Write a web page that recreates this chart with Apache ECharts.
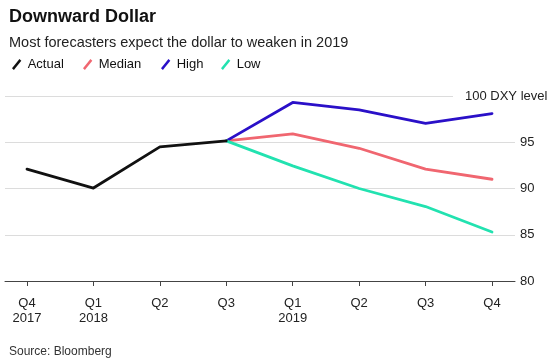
<!DOCTYPE html>
<html><head><meta charset="utf-8">
<script src="https://cdn.jsdelivr.net/npm/echarts@6/dist/echarts.min.js"></script>
<style>html,body{margin:0;padding:0;background:#fff}#c{width:550px;height:364px}</style>
</head><body><div id="c"></div>
<script>
var categories = ['Q4\n2017','Q1\n2018','Q2','Q3','Q1\n2019','Q2','Q3','Q4'];
var actual = [92.1, 90.05, 94.5, 95.15, null, null, null, null];
var median = [null, null, null, 95.15, 95.9, 94.35, 92.1, 91.0];
var high   = [null, null, null, 95.15, 99.3, 98.5, 97.05, 98.1];
var low    = [null, null, null, 95.15, 92.45, 90.0, 88.05, 85.3];
var yTicks = [80, 85, 90, 95, 100];
var topLabel = '100 DXY level';
var seriesNames = ['Actual','Median','High','Low'];
var colors = ['#111111','#f06670','#2a10c8','#22e2b0'];

function pairs(arr){ var out=[]; arr.forEach(function(v,i){ out.push(v==null?[i,null]:[i,v]); }); return out; }
var idx = categories.map(function(_,i){return i;});
var FONT = 'Liberation Sans, Arial, sans-serif';
var icon = 'path://M0,10L8,0L10,1.8L2,11.8Z';

function mkSeries(name, data, color){
  return {name:name, type:'line', data:pairs(data), symbol:'none', connectNulls:false,
    lineStyle:{width:2.8, color:color, cap:'round', join:'round'}, itemStyle:{color:color}, silent:true, z:3};
}
function mkLegend(name, left){
  return {data:[name], left:left, top:58, padding:0, itemWidth:10, itemHeight:11, itemGap:6, icon:icon,
    textStyle:{fontFamily:FONT, fontSize:13, color:'#111', padding:[0,0,0,1]}, selectedMode:false};
}
var chart = echarts.init(document.getElementById('c'), null, {renderer:'canvas'});
chart.setOption({
  animation:false,
  backgroundColor:'#fff',
  title:[
    {text:'Downward Dollar', left:4, top:3, textStyle:{fontFamily:FONT, fontSize:18, fontWeight:'bold', color:'#111'}},
    {text:'Most forecasters expect the dollar to weaken in 2019', left:4, top:30, textStyle:{fontFamily:FONT, fontSize:14.5, fontWeight:'normal', color:'#222'}},
    {text:'Source: Bloomberg', left:4, top:341, textStyle:{fontFamily:FONT, fontSize:12, fontWeight:'normal', color:'#333'}}
  ],
  legend:[mkLegend('Actual',12), mkLegend('Median',83), mkLegend('High',161), mkLegend('Low',221)],
  grid:{left:5, right:35, top:96, bottom:83, containLabel:false, outerBoundsMode:'none'},
  xAxis:{type:'value', min:-0.331, max:7.346,
    axisLine:{show:true, onZero:false, lineStyle:{color:'#444', width:1}},
    axisTick:{show:true, length:5, customValues:idx, lineStyle:{color:'#444'}},
    axisLabel:{customValues:idx, formatter:function(v){return categories[Math.round(v)];}, margin:15,
      fontFamily:FONT, fontSize:13, color:'#222', lineHeight:15},
    splitLine:{show:false}},
  yAxis:[
    {type:'value', position:'right', min:80, max:100, interval:5,
      axisLine:{show:false}, axisTick:{show:false},
      axisLabel:{margin:5, fontFamily:FONT, fontSize:13, color:'#222', formatter:function(v){return v===100?'':String(v);}},
      splitLine:{lineStyle:{color:'#dcdcdc', width:1}}},
    {type:'value', position:'right', min:80, max:100, interval:5, offset:-62,
      axisLine:{show:false}, axisTick:{show:false}, splitLine:{show:false},
      axisLabel:{margin:0, fontFamily:FONT, fontSize:13, color:'#222',
        formatter:function(v){return v===100?'{a|'+topLabel+'}':'';},
        rich:{a:{fontFamily:FONT, fontSize:13, color:'#222', backgroundColor:'#fff', padding:[3,6,3,12]}}}}
  ],
  series:[
    mkSeries('Median', median, colors[1]),
    mkSeries('High', high, colors[2]),
    mkSeries('Low', low, colors[3]),
    mkSeries('Actual', actual, colors[0])
  ]
});
</script></body></html>
